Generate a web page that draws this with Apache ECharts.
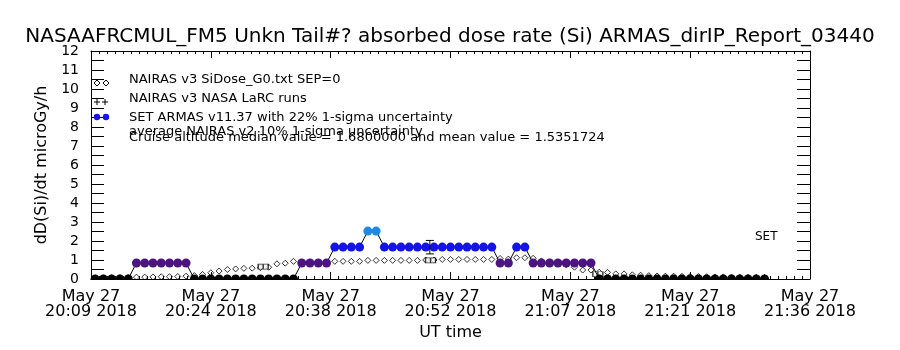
<!DOCTYPE html>
<html>
<head>
<meta charset="utf-8">
<script src="https://cdn.jsdelivr.net/npm/echarts@6/dist/echarts.min.js"></script>
<style>
  html, body { margin: 0; padding: 0; background: #fff; }
  #chart { width: 900px; height: 350px; }
</style>
</head>
<body>
<div id="chart"></div>
<script>
const FONT = 'DejaVu Sans';

// x axis: 20:09 -> 21:36, one tick every 14.5 min
const xTickLabels = [
  'May 27\n20:09 2018', 'May 27\n20:24 2018', 'May 27\n20:38 2018', 'May 27\n20:52 2018',
  'May 27\n21:07 2018', 'May 27\n21:21 2018', 'May 27\n21:36 2018'
];

// SET ARMAS samples (one per minute) and NAIRAS v3 at the same times
const armasTime = [
  '20:09:30','20:10:30','20:11:30','20:12:30','20:13:30','20:14:30','20:15:30','20:16:30','20:17:30','20:18:30',
  '20:19:30','20:20:30','20:21:30','20:22:30','20:23:30','20:24:30','20:25:30','20:26:30','20:27:30','20:28:30',
  '20:29:30','20:30:30','20:31:30','20:32:30','20:33:30','20:34:30','20:35:30','20:36:30','20:37:30','20:38:30',
  '20:39:30','20:40:30','20:41:30','20:42:30','20:43:30','20:44:30','20:45:30','20:46:30','20:47:30','20:48:30',
  '20:49:30','20:50:30','20:51:30','20:52:30','20:53:30','20:54:30','20:55:30','20:56:30','20:57:30','20:58:30',
  '20:59:30','21:00:30','21:01:30','21:02:30','21:03:30','21:04:30','21:05:30','21:06:30','21:07:30','21:08:30',
  '21:09:30','21:10:30','21:11:30','21:12:30','21:13:30','21:14:30','21:15:30','21:16:30','21:17:30','21:18:30',
  '21:19:30','21:20:30','21:21:30','21:22:30','21:23:30','21:24:30','21:25:30','21:26:30','21:27:30','21:28:30',
  '21:29:30','21:30:30'
];
const armasDose = [
  0, 0, 0, 0, 0,
  0.84, 0.84, 0.84, 0.84, 0.84, 0.84, 0.84,
  0, 0, 0, 0, 0, 0, 0, 0, 0, 0, 0, 0, 0,
  0.84, 0.84, 0.84, 0.84,
  1.68, 1.68, 1.68, 1.68,
  2.52, 2.52,
  1.68, 1.68, 1.68, 1.68, 1.68, 1.68, 1.68, 1.68, 1.68, 1.68, 1.68, 1.68, 1.68, 1.68,
  0.84, 0.84,
  1.68, 1.68,
  0.84, 0.84, 0.84, 0.84, 0.84, 0.84, 0.84, 0.84,
  0, 0, 0, 0, 0, 0, 0, 0, 0, 0, 0, 0, 0, 0, 0, 0, 0, 0, 0, 0, 0
];
const nairasDose = [
  0.06, 0.06, 0.07, 0.07, 0.08,
  0.10, 0.10, 0.11, 0.12, 0.12, 0.13, 0.15,
  0.18, 0.24, 0.33, 0.42, 0.50, 0.53, 0.56, 0.57, 0.60, 0.62, 0.80, 0.83, 0.93,
  0.86, 0.86, 0.87, 0.88,
  0.93, 0.93, 0.93, 0.93,
  0.98, 0.98, 0.98, 0.98, 0.98, 0.98, 0.98,
  1.00, 1.00,
  1.03, 1.03, 1.03, 1.03, 1.03, 1.03, 1.03,
  1.08, 1.05,
  1.12, 1.12,
  1.09,
  0.95, 0.90, 0.85, 0.75,
  0.62, 0.47, 0.47,
  0.36, 0.35, 0.27, 0.27, 0.22, 0.20, 0.18, 0.16, 0.15, 0.15, 0.14, 0.13, 0.13, 0.12, 0.11, 0.11,
  0.10, 0.10, 0.09, 0.09, 0.08
];

// NAIRAS v3 NASA LaRC runs
const larcTime = ['20:29:50', '20:50:05', '21:10:20'];
const larcDose = [0.65, 0.98, 0.25];

// 1-sigma bar at the cruise median
const errTime = ['20:50:00'];
const errLow = [1.32];
const errHigh = [2.03];

const legendLabels = [
  'NAIRAS v3 SiDose_G0.txt SEP=0',
  'NAIRAS v3 NASA LaRC runs',
  'SET ARMAS v11.37 with 22% 1-sigma uncertainty',
  'average NAIRAS v2 10% 1-sigma uncertainty',
  'Cruise altitude median value = 1.6800000 and mean value = 1.5351724'
];

// minutes after 20:09:00
function toMin(s) {
  const p = s.split(':').map(Number);
  return p[0] * 60 + p[1] + p[2] / 60 - (20 * 60 + 9);
}

function doseColor(v) {
  if (v <= 0) return '#000000';
  if (v < 1) return '#4b1482';
  if (v < 2) return '#1414e6';
  return '#1e8ae6';
}

const chart = echarts.init(document.getElementById('chart'));

const black = { color: '#000', width: 1 };
const xBase = {
  type: 'value', min: 0, max: 87, interval: 14.5,
  axisLine: { onZero: false, lineStyle: black },
  axisTick: { inside: true, length: 7, lineStyle: black },
  minorTick: { show: true, splitNumber: 15, length: 3, lineStyle: black },
  splitLine: { show: false }
};
const yBase = {
  type: 'value', min: 0, max: 12, interval: 0.5,
  axisLine: { show: true, onZero: false, lineStyle: black },
  axisTick: { show: true, inside: true, length: 13, lineStyle: black },
  splitLine: { show: false }
};

const mk = (i, t) => ({ type: 'line', z: 101, shape: { x1: i[0], y1: i[1], x2: t[0], y2: t[1] }, style: { stroke: '#000', lineWidth: 1 } });

const option = {
  animation: false,
  backgroundColor: '#fff',
  title: {
    text: 'NASAAFRCMUL_FM5 Unkn Tail#? absorbed dose rate (Si) ARMAS_dirIP_Report_03440',
    left: 'center', top: 27, padding: 0,
    textStyle: { fontFamily: FONT, fontSize: 20, fontWeight: 'normal', color: '#000' }
  },
  grid: { left: 91, right: 90, top: 51, bottom: 71 },
  xAxis: [
    Object.assign({}, xBase, {
      position: 'bottom',
      name: 'UT time', nameLocation: 'middle', nameGap: 45,
      nameTextStyle: { fontFamily: FONT, fontSize: 16, color: '#000' },
      axisLabel: {
        formatter: (v) => xTickLabels[Math.round(v / 14.5)],
        fontFamily: FONT, fontSize: 16, color: '#000', lineHeight: 15, margin: 10,
        showMinLabel: true, showMaxLabel: true, hideOverlap: false
      }
    }),
    Object.assign({}, xBase, { position: 'top', axisLabel: { show: false } })
  ],
  yAxis: [
    Object.assign({}, yBase, {
      position: 'left',
      name: 'dD(Si)/dt microGy/h', nameLocation: 'middle', nameGap: 34, nameRotate: 90,
      nameTextStyle: { fontFamily: FONT, fontSize: 16, color: '#000' },
      axisLabel: {
        formatter: (v) => (v % 1 === 0 ? String(v) : ''),
        fontFamily: FONT, fontSize: 14, color: '#000', margin: 12
      }
    }),
    Object.assign({}, yBase, { position: 'right', axisLabel: { show: false } })
  ],
  series: [
    {
      name: 'NAIRAS v3 SiDose', type: 'scatter', z: 2,
      symbol: 'path://M5,0L10,5L5,10L0,5Z', symbolSize: 6,
      itemStyle: { color: 'rgba(0,0,0,0)', borderColor: '#000', borderWidth: 1 },
      data: armasTime.map((t, i) => [toMin(t), nairasDose[i]])
    },
    {
      name: 'NAIRAS v3 NASA LaRC', type: 'scatter', z: 3,
      symbol: 'path://M0,0H10V4H0ZM5,0V4', symbolSize: [10, 5], symbolKeepAspect: false,
      itemStyle: { color: '#fff', borderColor: '#000', borderWidth: 1 },
      data: larcTime.map((t, i) => [toMin(t), larcDose[i]])
    },
    {
      name: 'SET ARMAS', type: 'line', z: 4, clip: false,
      symbol: 'circle', symbolSize: 9, showSymbol: true, showAllSymbol: true,
      lineStyle: { color: '#000', width: 1 },
      data: armasTime.map((t, i) => ({
        value: [toMin(t), armasDose[i]],
        itemStyle: { color: doseColor(armasDose[i]) }
      }))
    },
    {
      name: 'uncertainty', type: 'custom', z: 5,
      renderItem: (params, api) => {
        const lo = api.coord([api.value(0), api.value(1)]);
        const hi = api.coord([api.value(0), api.value(2)]);
        const st = { stroke: '#000', lineWidth: 1 };
        return {
          type: 'group',
          children: [
            { type: 'line', shape: { x1: lo[0], y1: lo[1], x2: hi[0], y2: hi[1] }, style: st },
            { type: 'line', shape: { x1: lo[0] - 4, y1: lo[1], x2: lo[0] + 4, y2: lo[1] }, style: st },
            { type: 'line', shape: { x1: hi[0] - 4, y1: hi[1], x2: hi[0] + 4, y2: hi[1] }, style: st }
          ]
        };
      },
      data: errTime.map((t, i) => [toMin(t), errLow[i], errHigh[i]])
    }
  ],
  graphic: [
    // hide the part of the symbols that falls below the plot frame
    { type: 'rect', z: 100, shape: { x: 84, y: 280, width: 732, height: 8 }, style: { fill: '#fff' } },
    // legend keys
    { type: 'polygon', z: 101, shape: { points: [[97, 80], [100, 83], [97, 86], [94, 83]] }, style: { fill: 'none', stroke: '#000' } },
    { type: 'polygon', z: 101, shape: { points: [[106, 80], [109, 83], [106, 86], [103, 83]] }, style: { fill: 'none', stroke: '#000' } },
    mk([94, 102], [100, 102]), mk([97, 99], [97, 105]),
    mk([102, 102], [108, 102]), mk([105, 99], [105, 105]),
    { type: 'circle', z: 101, shape: { cx: 97, cy: 117, r: 3.2 }, style: { fill: '#1414e6' } },
    { type: 'circle', z: 101, shape: { cx: 106, cy: 117, r: 3.2 }, style: { fill: '#1414e6' } }
  ].concat(legendLabels.map((s, i) => ({
    type: 'text', z: 101, x: 129, y: [80, 99, 118, 132, 138][i],
    style: { text: s, fontFamily: FONT, fontSize: 13, fill: '#000', align: 'left', verticalAlign: 'middle' }
  }))).concat([
    { type: 'text', z: 101, x: 755, y: 237,
      style: { text: 'SET', fontFamily: FONT, fontSize: 12, fill: '#000', align: 'left', verticalAlign: 'middle' } }
  ])
};

chart.setOption(option);
</script>
</body>
</html>
